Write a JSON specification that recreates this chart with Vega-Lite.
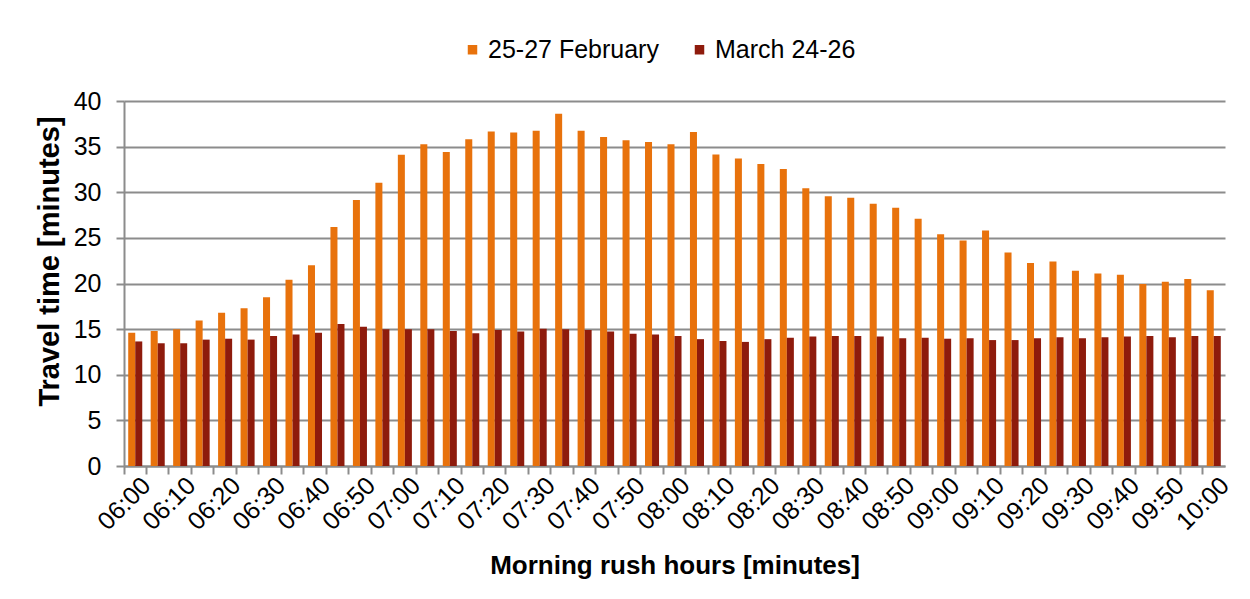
{
  "$schema": "https://vega.github.io/schema/vega-lite/v6.json",
  "width": 1101,
  "height": 365,
  "autosize": {"type": "none"},
  "padding": {"left": 124, "top": 101, "right": 25, "bottom": 133},
  "background": "white",
  "data": {"values": [
    {"t": "06:00", "25-27 February": 14.6, "March 24-26": 13.65},
    {"t": "06:05", "25-27 February": 14.8, "March 24-26": 13.45},
    {"t": "06:10", "25-27 February": 15.0, "March 24-26": 13.45},
    {"t": "06:15", "25-27 February": 15.95, "March 24-26": 13.85},
    {"t": "06:20", "25-27 February": 16.8, "March 24-26": 13.95},
    {"t": "06:25", "25-27 February": 17.3, "March 24-26": 13.85},
    {"t": "06:30", "25-27 February": 18.5, "March 24-26": 14.25},
    {"t": "06:35", "25-27 February": 20.4, "March 24-26": 14.4},
    {"t": "06:40", "25-27 February": 22.0, "March 24-26": 14.6},
    {"t": "06:45", "25-27 February": 26.2, "March 24-26": 15.55},
    {"t": "06:50", "25-27 February": 29.15, "March 24-26": 15.25},
    {"t": "06:55", "25-27 February": 31.05, "March 24-26": 15.0},
    {"t": "07:00", "25-27 February": 34.1, "March 24-26": 15.0},
    {"t": "07:05", "25-27 February": 35.25, "March 24-26": 15.0},
    {"t": "07:10", "25-27 February": 34.4, "March 24-26": 14.8},
    {"t": "07:15", "25-27 February": 35.8, "March 24-26": 14.55},
    {"t": "07:20", "25-27 February": 36.65, "March 24-26": 14.9},
    {"t": "07:25", "25-27 February": 36.55, "March 24-26": 14.75},
    {"t": "07:30", "25-27 February": 36.75, "March 24-26": 15.05},
    {"t": "07:35", "25-27 February": 38.6, "March 24-26": 15.0},
    {"t": "07:40", "25-27 February": 36.75, "March 24-26": 14.9},
    {"t": "07:45", "25-27 February": 36.05, "March 24-26": 14.75},
    {"t": "07:50", "25-27 February": 35.7, "March 24-26": 14.5},
    {"t": "07:55", "25-27 February": 35.5, "March 24-26": 14.4},
    {"t": "08:00", "25-27 February": 35.25, "March 24-26": 14.25},
    {"t": "08:05", "25-27 February": 36.6, "March 24-26": 13.9},
    {"t": "08:10", "25-27 February": 34.15, "March 24-26": 13.7},
    {"t": "08:15", "25-27 February": 33.7, "March 24-26": 13.6},
    {"t": "08:20", "25-27 February": 33.1, "March 24-26": 13.9},
    {"t": "08:25", "25-27 February": 32.55, "March 24-26": 14.05},
    {"t": "08:30", "25-27 February": 30.45, "March 24-26": 14.2},
    {"t": "08:35", "25-27 February": 29.55, "March 24-26": 14.25},
    {"t": "08:40", "25-27 February": 29.4, "March 24-26": 14.25},
    {"t": "08:45", "25-27 February": 28.75, "March 24-26": 14.2},
    {"t": "08:50", "25-27 February": 28.3, "March 24-26": 14.0},
    {"t": "08:55", "25-27 February": 27.1, "March 24-26": 14.05},
    {"t": "09:00", "25-27 February": 25.4, "March 24-26": 13.95},
    {"t": "09:05", "25-27 February": 24.7, "March 24-26": 14.0},
    {"t": "09:10", "25-27 February": 25.8, "March 24-26": 13.8},
    {"t": "09:15", "25-27 February": 23.4, "March 24-26": 13.8},
    {"t": "09:20", "25-27 February": 22.25, "March 24-26": 14.0},
    {"t": "09:25", "25-27 February": 22.4, "March 24-26": 14.1},
    {"t": "09:30", "25-27 February": 21.4, "March 24-26": 14.0},
    {"t": "09:35", "25-27 February": 21.1, "March 24-26": 14.1},
    {"t": "09:40", "25-27 February": 20.95, "March 24-26": 14.2},
    {"t": "09:45", "25-27 February": 19.95, "March 24-26": 14.25},
    {"t": "09:50", "25-27 February": 20.2, "March 24-26": 14.1},
    {"t": "09:55", "25-27 February": 20.5, "March 24-26": 14.25},
    {"t": "10:00", "25-27 February": 19.25, "March 24-26": 14.25}
  ]},
  "transform": [{"fold": ["25-27 February", "March 24-26"], "as": ["period", "value"]}],
  "mark": {"type": "bar"},
  "encoding": {
    "x": {
      "field": "t", "type": "nominal", "sort": null,
      "scale": {"paddingInner": 0, "paddingOuter": 0},
      "axis": {
        "title": "Morning rush hours [minutes]",
        "bandPosition": 0,
        "labelOffset": 11.2,
        "labelAngle": -45,
        "labelAlign": "right",
        "labelBaseline": "middle",
        "labelExpr": "substring(datum.value,4,5)=='0' ? datum.value : ''",
        "labelFont": "Liberation Sans",
        "labelFontSize": 25,
        "labelColor": "#000000",
        "labelPadding": 7,
        "tickSize": 8,
        "tickColor": "#8c8c8c",
        "tickWidth": 2,
        "domainColor": "#8c8c8c",
        "domainWidth": 2,
        "grid": false,
        "titleFont": "Liberation Sans",
        "titleFontSize": 26,
        "titleFontWeight": "bold",
        "titleColor": "#000000",
        "titleBaseline": "alphabetic",
        "titleY": 107
      }
    },
    "xOffset": {"field": "period", "type": "nominal", "scale": {"paddingOuter": 0.6, "paddingInner": 0}},
    "y": {
      "field": "value", "type": "quantitative",
      "scale": {"domain": [0, 40]},
      "axis": {
        "title": "Travel time [minutes]",
        "values": [0, 5, 10, 15, 20, 25, 30, 35, 40],
        "grid": true,
        "gridColor": "#8c8c8c",
        "gridWidth": 2,
        "tickSize": 8,
        "tickColor": "#8c8c8c",
        "tickWidth": 2,
        "domainColor": "#8c8c8c",
        "domainWidth": 2,
        "labelFont": "Liberation Sans",
        "labelFontSize": 25,
        "labelColor": "#000000",
        "labelPadding": 15,
        "titleFont": "Liberation Sans",
        "titleFontSize": 29,
        "titleFontWeight": "bold",
        "titleColor": "#000000",
        "titleBaseline": "alphabetic",
        "titleX": -66,
        "titleY": 160
      }
    },
    "color": {
      "field": "period", "type": "nominal",
      "scale": {"range": ["#E8720C", "#8E1B0C"]},
      "legend": {
        "title": null,
        "orient": "none",
        "direction": "horizontal",
        "legendX": 336,
        "legendY": -64,
        "symbolType": "square",
        "symbolSize": 90,
        "symbolStrokeWidth": 0,
        "labelFont": "Liberation Sans",
        "labelFontSize": 25,
        "labelColor": "#000000",
        "labelOffset": 3,
        "labelLimit": 400,
        "columnPadding": 28,
        "padding": 0
      }
    }
  },
  "config": {"view": {"stroke": null}}
}
